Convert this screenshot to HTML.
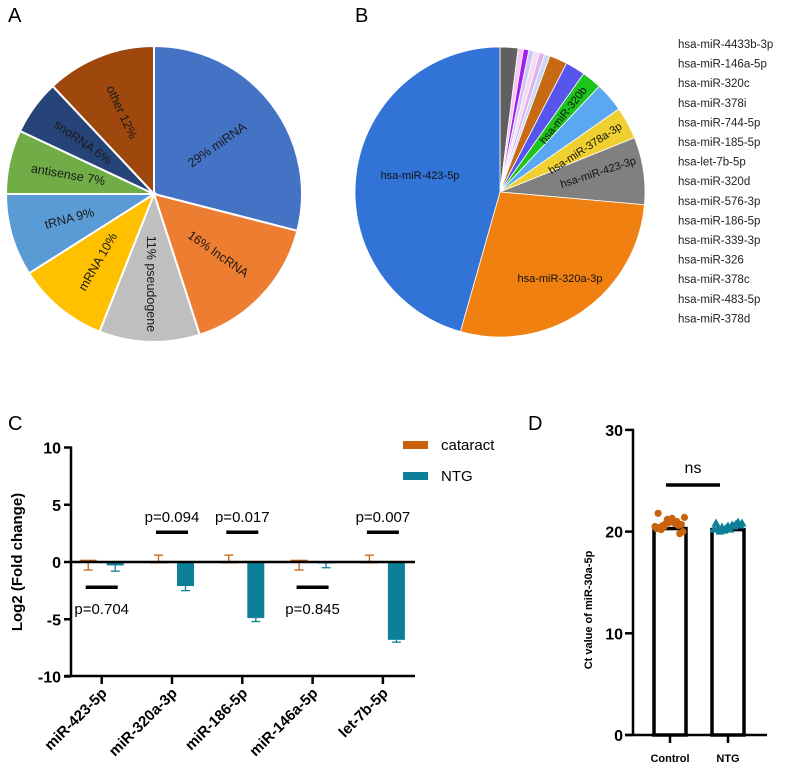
<!DOCTYPE html>
<html><head><meta charset="utf-8"><style>
body{margin:0;background:#fff;font-family:"Liberation Sans",Arial,sans-serif}
svg{display:block}
</style></head><body>
<svg id="fig" width="787" height="780" viewBox="0 0 787 780" xmlns="http://www.w3.org/2000/svg" font-family="Liberation Sans, Arial, sans-serif">
<text x="8" y="22" font-size="20">A</text>
<text x="355" y="22" font-size="20">B</text>
<text x="8" y="430" font-size="20">C</text>
<text x="528" y="430" font-size="20">D</text>
<g id="pieA"></g>
<g id="pieB"></g>
<g id="legB"></g>
<g id="chartC"></g>
<g id="chartD"></g>
</svg>
<script>
const NS="http://www.w3.org/2000/svg";
function mk(parent,tag,attrs,txt){const e=document.createElementNS(NS,tag);for(const k in attrs)e.setAttribute(k,attrs[k]);if(txt!==undefined)e.textContent=txt;parent.appendChild(e);return e;}

// ---- Pie A data
const aLabels=["29%  miRNA","16% lncRNA","11% pseudogene","mRNA 10%","tRNA 9%","antisense 7%","snoRNA 6%","other 12%"];
const aValues=[29,16,11,10,9,7,6,12];
const aColors=["#4472C4","#ED7D31","#BFBFBF","#FFC000","#5B9BD5","#70AD47","#264478","#9E480E"];
const aLabelRot=[-35,35,90,-60,-15,10,35,65];

// ---- Pie B data
const bNames=["dark","t1","t2","t3","t4","t5","t6","brown","violet","green","hsa-miR-320b","hsa-miR-378a-3p","hsa-miR-423-3p","hsa-miR-320a-3p","hsa-miR-423-5p"];
const bValues=[2,0.6,0.6,0.6,0.6,0.6,0.6,2,2.2,2.2,3.3,3.6,7.5,28,45.6];
const bColors=["#606060","#F4C8F0","#A020F0","#D0C8F4","#F8D8F0","#E0B0F0","#C8D8F8","#C86A14","#5656EE","#1CC41C","#5AA8F2","#F0D030","#808080","#F08010","#3173D6"];
const bLegend=["hsa-miR-4433b-3p","hsa-miR-146a-5p","hsa-miR-320c","hsa-miR-378i","hsa-miR-744-5p","hsa-miR-185-5p","hsa-let-7b-5p","hsa-miR-320d","hsa-miR-576-3p","hsa-miR-186-5p","hsa-miR-339-3p","hsa-miR-326","hsa-miR-378c","hsa-miR-483-5p","hsa-miR-378d"];

function pie(g,values,colors,cx,cy,r,name){
  const tot=values.reduce((a,b)=>a+b,0);let a0=0;const mids=[];
  values.forEach((v,i)=>{
    const a1=a0+v/tot*2*Math.PI;
    const x0=cx+r*Math.sin(a0),y0=cy-r*Math.cos(a0),x1=cx+r*Math.sin(a1),y1=cy-r*Math.cos(a1);
    const p=mk(g,"path",{d:`M${cx},${cy}L${x0},${y0}A${r},${r} 0 ${a1-a0>Math.PI?1:0} 1 ${x1},${y1}Z`,fill:colors[i],stroke:"#fff","stroke-width":name==="a"?2:0.8});
    
    
    mids.push((a0+a1)/2);a0=a1;
  });
  return mids;
}
const midA=pie(document.getElementById("pieA"),aValues,aColors,154,194,148,"a");
midA.forEach((m,i)=>{
  const rr=i===0?80:(i===2?90:88);
  const x=154+rr*Math.sin(m),y=194-rr*Math.cos(m);
  const t=mk(document.getElementById("pieA"),"text",{x:x,y:y+4,"font-size":12.5,"text-anchor":"middle",fill:"#1a1a1a",transform:`rotate(${aLabelRot[i]} ${x} ${y})`},aLabels[i]);
  
  
});
const midB=pie(document.getElementById("pieB"),bValues,bColors,500,192,145,"b");
const gB=document.getElementById("pieB");
[[14,"hsa-miR-423-5p",420,175,0],[13,"hsa-miR-320a-3p",560,278,0],[10,"hsa-miR-320b",563,115,-52],[11,"hsa-miR-378a-3p",585,148,-33],[12,"hsa-miR-423-3p",598,172,-18]].forEach(d=>{
  const t=mk(gB,"text",{x:d[2],y:d[3]+4,"font-size":11,"text-anchor":"middle",fill:"#111",transform:`rotate(${d[4]} ${d[2]} ${d[3]})`},d[1]);
  
  
});
const gL=document.getElementById("legB");
bLegend.forEach((s,i)=>{
  const t=mk(gL,"text",{x:678,y:48+i*19.6,"font-size":11.5,fill:"#222"},s);
  
  
});

// ---- Chart C data
const cCats=["miR-423-5p","miR-320a-3p","miR-186-5p","miR-146a-5p","let-7b-5p"];
const cCataract=[0.2,0,0,0.2,0];
const cCataractErr=[-0.7,0.6,0.6,-0.7,0.6];
const cNTG=[-0.3,-2.1,-4.9,-0.1,-6.8];
const cNTGErr=[-0.8,-2.5,-5.2,-0.5,-7.0];
const cPvals=["p=0.704","p=0.094","p=0.017","p=0.845","p=0.007"];
const cPpos=[-2.2,2.6,2.6,-2.2,2.6];
const cTicks=[10,5,0,-5,-10];
(function(){
  const g=document.getElementById("chartC");
  const y=v=>562-v*11.45, x=i=>101.7+i*70.3;
  const X0=71,X1=415;
  cTicks.forEach(t=>{
    mk(g,"line",{x1:X0-7,x2:X0,y1:y(t),y2:y(t),stroke:"#000","stroke-width":2.5});
    const l=mk(g,"text",{x:X0-10,y:y(t)+6,"font-size":16,"font-weight":"bold","text-anchor":"end"},t);
    
    
  });
  const yt=mk(g,"text",{x:22,y:562,"font-size":15,"font-weight":"bold","text-anchor":"middle",transform:"rotate(-90 22 562)"},"Log2 (Fold change)");
  
  
  cCats.forEach((c,i)=>{
    const cx=x(i);
    const vc=cCataract[i];
    const r1=mk(g,"rect",{x:cx-22,y:Math.min(y(vc),y(0)),width:17,height:Math.max(Math.abs(y(vc)-y(0)),1.5),fill:"#C8620C"});
    
    
    mk(g,"line",{x1:cx-13.5,x2:cx-13.5,y1:y(vc),y2:y(cCataractErr[i]),stroke:"#C8620C","stroke-width":1.3});
    mk(g,"line",{x1:cx-18,x2:cx-9,y1:y(cCataractErr[i]),y2:y(cCataractErr[i]),stroke:"#C8620C","stroke-width":1.3});
    const vn=cNTG[i];
    const r2=mk(g,"rect",{x:cx+5,y:y(0),width:17,height:Math.max(y(vn)-y(0),1.5),fill:"#0E7F98"});
    
    
    mk(g,"line",{x1:cx+13.5,x2:cx+13.5,y1:y(vn),y2:y(cNTGErr[i]),stroke:"#0E7F98","stroke-width":1.3});
    mk(g,"line",{x1:cx+9,x2:cx+18,y1:y(cNTGErr[i]),y2:y(cNTGErr[i]),stroke:"#0E7F98","stroke-width":1.3});
    const py=y(cPpos[i]);
    mk(g,"line",{x1:cx-16,x2:cx+16,y1:py,y2:py,stroke:"#000","stroke-width":3.5});
    const pt=mk(g,"text",{x:cx,y:cPpos[i]>0?py-10:py+27,"font-size":15,"text-anchor":"middle"},cPvals[i]);
    
    
    mk(g,"line",{x1:cx,x2:cx,y1:676,y2:684,stroke:"#000","stroke-width":2.5});
    const xl=mk(g,"text",{x:cx+6,y:694,"font-size":15,"font-weight":"bold","text-anchor":"end",transform:`rotate(-45 ${cx+6} 694)`},c);
    
    
  });
  mk(g,"line",{x1:X0,x2:X1,y1:y(0),y2:y(0),stroke:"#000","stroke-width":2.5});
  mk(g,"line",{x1:X0,x2:X0,y1:y(10)-1,y2:677,stroke:"#000","stroke-width":2.5});
  mk(g,"line",{x1:X0-7,x2:X1,y1:676,y2:676,stroke:"#000","stroke-width":2.5});
  [["cataract","#C8620C",445],["NTG","#0E7F98",476]].forEach(d=>{
    mk(g,"rect",{x:403,y:d[2]-4,width:25,height:8,fill:d[1]});
    const t=mk(g,"text",{x:441,y:d[2]+5,"font-size":15},d[0]);
    
    
  });
})();

// ---- Chart D data
const dCats=["Control","NTG"];
const dMeans=[20.3,20.2];
const dControl=[20.5,20.8,21.0,20.3,21.2,20.6,21.8,20.9,19.8,20.4,21.1,20.7,20.2,21.3,20.0,20.6,20.9,21.4,20.5,20.8];
const dNTG=[20.2,20.5,20.8,20.3,20.6,20.1,20.9,20.4,20.7,20.0,20.5,20.3,20.6,20.8,20.2];
const dTicks=[0,10,20,30];
(function(){
  const g=document.getElementById("chartD");
  const y=v=>735-v*10.17, x=i=>670+i*58;
  const X0=633,X1=767;
  dTicks.forEach(t=>{
    mk(g,"line",{x1:X0-8,x2:X0,y1:y(t),y2:y(t),stroke:"#000","stroke-width":2.5});
    const l=mk(g,"text",{x:X0-10,y:y(t)+6,"font-size":16,"font-weight":"bold","text-anchor":"end"},t);
    
    
  });
  const yt=mk(g,"text",{x:592,y:610,"font-size":11,"font-weight":"bold","text-anchor":"middle",transform:"rotate(-90 592 610)"},"Ct value of miR-30a-5p");
  
  
  dCats.forEach((c,i)=>{
    const cx=x(i);
    const r=mk(g,"rect",{x:cx-16,y:y(dMeans[i]),width:32,height:y(0)-y(dMeans[i]),fill:"#fff",stroke:"#000","stroke-width":3.5});
    
    
    mk(g,"line",{x1:cx,x2:cx,y1:735,y2:743,stroke:"#000","stroke-width":2.5});
    const l=mk(g,"text",{x:cx,y:762,"font-size":11,"font-weight":"bold","text-anchor":"middle"},c);
    
    
  });
  dControl.forEach((v,j)=>{
    const px=x(0)-15+((j*7)%20)*1.55;
    const d=mk(g,"circle",{cx:px,cy:y(v),r:3.6,fill:"#C8620C"});
    
    
  });
  dNTG.forEach((v,j)=>{
    const px=x(1)-14+((j*7)%15)*2, py=y(v);
    const d=mk(g,"path",{d:`M${px},${py-5}L${px+4.5},${py+3}L${px-4.5},${py+3}Z`,fill:"#0E7F98"});
    
    
  });
  mk(g,"line",{x1:X0,x2:X0,y1:y(30)-1,y2:736,stroke:"#000","stroke-width":2.5});
  mk(g,"line",{x1:X0-8,x2:X1,y1:735,y2:735,stroke:"#000","stroke-width":2.5});
  mk(g,"line",{x1:666,x2:720,y1:485,y2:485,stroke:"#000","stroke-width":3.5});
  const ns=mk(g,"text",{x:693,y:473,"font-size":16,"text-anchor":"middle"},"ns");
  
  
})();
</script>
</body></html>
